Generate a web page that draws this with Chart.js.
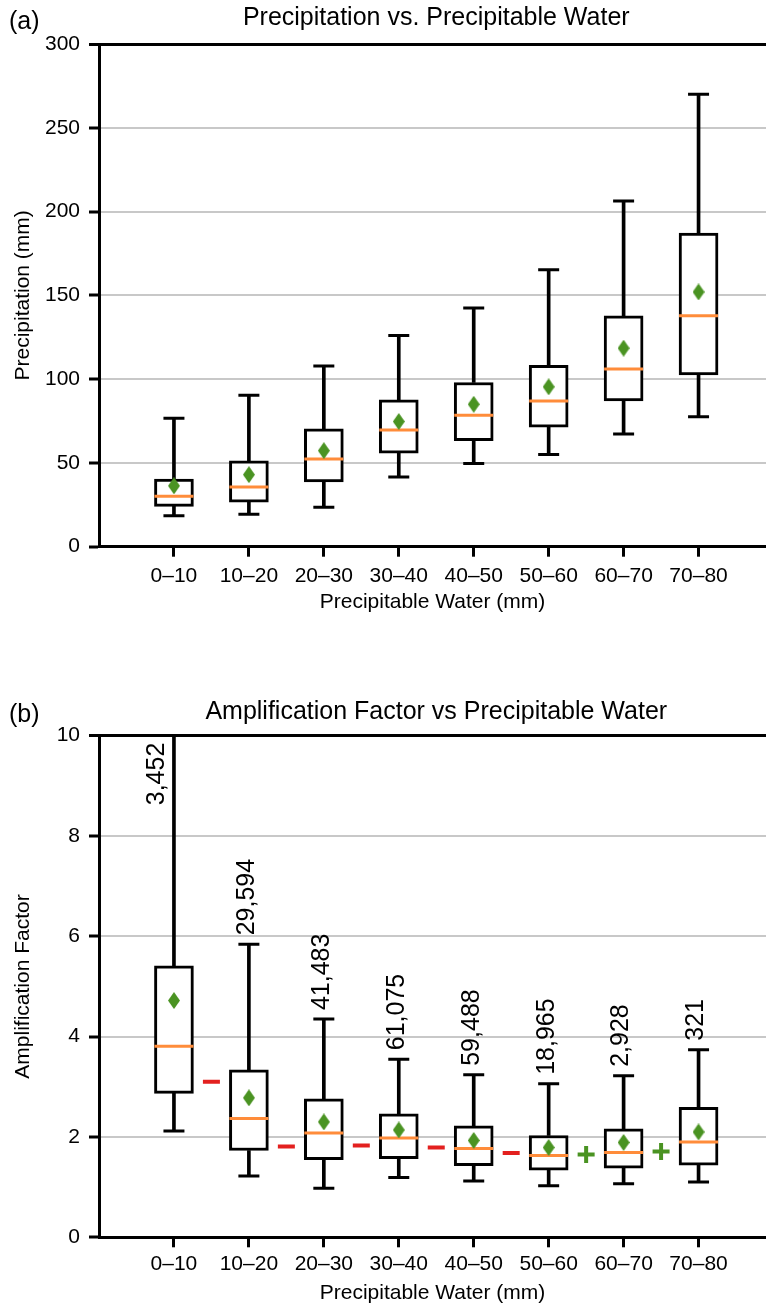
<!DOCTYPE html>
<html>
<head>
<meta charset="utf-8">
<script src="https://cdn.jsdelivr.net/npm/chart.js@4.4.1/dist/chart.umd.min.js"></script>
<style>
  html, body { margin: 0; padding: 0; background: #fff; overflow: hidden; }
  canvas { display: block; }
</style>
</head>
<body>
<canvas id="chartA" width="766" height="640"></canvas>
<canvas id="chartB" width="766" height="668"></canvas>
<script>
// categories shared by both panels
const categories = ['0–10', '10–20', '20–30', '30–40', '40–50', '50–60', '60–70', '70–80'];

// (a) precipitation box plots (mm)
const precipLow    = [18.5, 19.3, 23.5, 41.6, 49.6, 55.0, 67.3, 77.6];
const precipQ1     = [24.1, 26.5, 38.6, 55.8, 63.3, 71.3, 87.0, 102.5];
const precipMedian = [30.1, 35.7, 52.4, 69.7, 78.5, 87.0, 106.0, 137.8];
const precipQ3     = [40.4, 51.2, 70.3, 87.6, 98.0, 108.3, 137.8, 187.2];
const precipHigh   = [76.7, 90.4, 107.9, 126.0, 142.4, 165.3, 206.3, 270.0];
const precipMean   = [36.3, 43.0, 57.3, 74.7, 85.0, 95.4, 118.5, 152.0];
const precipTicks  = [0, 50, 100, 150, 200, 250, 300];

// (b) amplification factor box plots
const ampLow    = [2.12, 1.22, 0.98, 1.19, 1.12, 1.03, 1.07, 1.10];
const ampQ1     = [2.87, 1.73, 1.55, 1.57, 1.43, 1.34, 1.38, 1.44];
const ampMedian = [3.81, 2.37, 2.08, 1.98, 1.77, 1.63, 1.69, 1.90];
const ampQ3     = [5.41, 3.34, 2.76, 2.46, 2.22, 2.03, 2.16, 2.59];
const ampHigh   = [12.0, 5.84, 4.35, 3.55, 3.24, 3.06, 3.22, 3.74];
const ampMean   = [4.72, 2.78, 2.30, 2.14, 1.93, 1.79, 1.89, 2.10];
const ampCounts = ['3,452', '29,594', '41,483', '61,075', '59,488', '18,965', '2,928', '321'];
const ampTicks  = [0, 2, 4, 6, 8, 10];

// markers between neighbouring bins
const diffPositions = [0.5, 1.5, 2.5, 3.5, 4.5, 5.5, 6.5];
const diffValues    = [3.10, 1.81, 1.83, 1.79, 1.68, 1.65, 1.71];
const diffSigns     = ['-', '-', '-', '-', '-', '+', '+'];

const FONT = '"Liberation Sans", Arial, Helvetica, sans-serif';
const ORANGE = '#ff8c3a';
const GREEN = '#4a9322';
const RED = '#e3201f';

Chart.defaults.font.family = FONT;
Chart.defaults.color = '#000';

// tall diamond for the means
const diamond = document.createElement('canvas');
diamond.width = 12;
diamond.height = 17;
(function () {
  const c = diamond.getContext('2d');
  c.fillStyle = GREEN;
  c.beginPath();
  c.moveTo(6, 0);
  c.lineTo(12, 8.5);
  c.lineTo(6, 17);
  c.lineTo(0, 8.5);
  c.closePath();
  c.fill();
})();

function boxDatasets(low, q1, med, q3, high, mean) {
  const pts = arr => arr.map((v, i) => ({ x: i, y: v }));
  const spans = (a, b) => a.map((v, i) => ({ x: i, y: [v, b[i]] }));
  return [
    { type: 'bar', data: spans(low, q1), backgroundColor: '#000', borderWidth: 0,
      barThickness: 3, grouped: false, order: 6 },
    { type: 'bar', data: spans(q3, high), backgroundColor: '#000', borderWidth: 0,
      barThickness: 3, grouped: false, order: 6 },
    { type: 'bar', data: spans(q1, q3), backgroundColor: '#fff', borderColor: '#000',
      borderWidth: 3, borderSkipped: false, barThickness: 39, grouped: false, order: 5 },
    { type: 'scatter', data: pts(low).concat(pts(high)), pointStyle: 'line',
      pointRadius: 10.5, pointBorderWidth: 3, pointBorderColor: '#000', order: 4 },
    { type: 'scatter', data: pts(med), pointStyle: 'line',
      pointRadius: 19.5, pointBorderWidth: 3, pointBorderColor: ORANGE, order: 3 },
    { type: 'scatter', data: pts(mean), pointStyle: diamond, pointRadius: 8, order: 2 }
  ];
}

function scalesFor(yTicks, yTitle, o) {
  const yMin = yTicks[0], yMax = yTicks[yTicks.length - 1];
  return {
    x: {
      type: 'linear', min: -1, max: 7.9, bounds: 'data', offset: false,
      afterBuildTicks: s => { s.ticks = categories.map((c, i) => ({ value: i })); },
      afterFit: s => { s.height = o.xHeight; s.paddingLeft = 0; s.paddingRight = 0; },
      ticks: { callback: v => categories[v], padding: o.xPad, font: { size: 21 },
               color: '#000', maxRotation: 0, autoSkip: false },
      grid: { drawOnChartArea: false, offset: false, tickLength: 10,
              color: '#000', tickColor: '#000', tickWidth: 3 },
      border: { color: '#000', width: 3 },
      title: { display: true, text: 'Precipitable Water (mm)', font: { size: 21 },
               color: '#000', padding: { top: 0, bottom: o.xTitlePad } }
    },
    y: {
      type: 'linear', min: yMin, max: yMax, bounds: 'data',
      afterBuildTicks: s => { s.ticks = yTicks.map(v => ({ value: v })); },
      afterFit: s => { s.width = 99; s.paddingTop = 0; s.paddingBottom = 0; },
      ticks: { padding: 9, font: { size: 21 }, color: '#000' },
      grid: {
        color: c => (c.tick && (c.tick.value === yMax || c.tick.value === yMin)) ? '#000' : '#c8c8c8',
        lineWidth: c => (c.tick && c.tick.value === yMax) ? 3 : 2,
        tickColor: '#000', tickLength: 10, tickWidth: 3
      },
      border: { color: '#000', width: 3 },
      title: { display: true, text: yTitle, font: { size: 21 }, color: '#000',
               padding: { top: 11, bottom: 0 } }
    }
  };
}

function headPlugin(title, tag, titleY, tagY) {
  return {
    id: 'head',
    afterDraw(chart) {
      const { ctx } = chart;
      const x = chart.scales.x;
      const cx = (x.getPixelForValue(-1) + x.getPixelForValue(8)) / 2;
      ctx.save();
      ctx.fillStyle = '#000';
      ctx.font = '25px ' + FONT;
      ctx.textAlign = 'center';
      ctx.textBaseline = 'middle';
      ctx.fillText(title, cx, titleY);
      ctx.textAlign = 'left';
      ctx.textBaseline = 'alphabetic';
      ctx.fillText(tag, 9, tagY);
      ctx.restore();
    }
  };
}

// sample counts written vertically above each upper whisker
const countLabels = {
  id: 'countLabels',
  afterDatasetsDraw(chart) {
    const { ctx, chartArea } = chart;
    const { x, y } = chart.scales;
    ctx.save();
    ctx.fillStyle = '#000';
    ctx.font = '25px ' + FONT;
    ctx.textBaseline = 'middle';
    ampCounts.forEach((txt, i) => {
      const px = x.getPixelForValue(i);
      ctx.save();
      if (ampHigh[i] > y.max) {
        ctx.translate(px - 17, chartArea.top + 7);
        ctx.rotate(-Math.PI / 2);
        ctx.textAlign = 'right';
      } else {
        ctx.translate(px - 2, y.getPixelForValue(ampHigh[i]) - 9);
        ctx.rotate(-Math.PI / 2);
        ctx.textAlign = 'left';
      }
      ctx.fillText(txt, 0, 0);
      ctx.restore();
    });
    ctx.restore();
  }
};

const common = {
  responsive: false,
  devicePixelRatio: 1,
  animation: false,
  events: [],
  plugins: { legend: { display: false }, tooltip: { enabled: false } }
};

new Chart(document.getElementById('chartA'), {
  type: 'scatter',
  data: {
    datasets: boxDatasets(precipLow, precipQ1, precipMedian, precipQ3, precipHigh, precipMean)
  },
  options: Object.assign({}, common, {
    layout: { autoPadding: false, padding: { top: 44, left: 0, right: 0, bottom: 0 } },
    scales: scalesFor(precipTicks, 'Precipitation (mm)', { xHeight: 93.3, xPad: 6.5, xTitlePad: 25 })
  }),
  plugins: [headPlugin('Precipitation vs. Precipitable Water', '(a)', 18.5, 29)]
});

const diffSet = {
  type: 'scatter',
  data: diffPositions.map((p, i) => ({ x: p, y: diffValues[i] })),
  pointStyle: diffSigns.map(s => s === '+' ? 'cross' : 'line'),
  pointRadius: 8.5,
  pointBorderWidth: 4,
  pointBorderColor: diffSigns.map(s => s === '+' ? GREEN : RED),
  order: 1
};

new Chart(document.getElementById('chartB'), {
  type: 'scatter',
  data: {
    datasets: boxDatasets(ampLow, ampQ1, ampMedian, ampQ3, ampHigh, ampMean).concat([diffSet])
  },
  options: Object.assign({}, common, {
    layout: { autoPadding: false, padding: { top: 95.7, left: 0, right: 0, bottom: 0 } },
    scales: scalesFor(ampTicks, 'Amplification Factor', { xHeight: 70.7, xPad: 4.3, xTitlePad: 2.2 })
  }),
  plugins: [headPlugin('Amplification Factor vs Precipitable Water', '(b)', 72.5, 82), countLabels]
});
</script>
</body>
</html>
